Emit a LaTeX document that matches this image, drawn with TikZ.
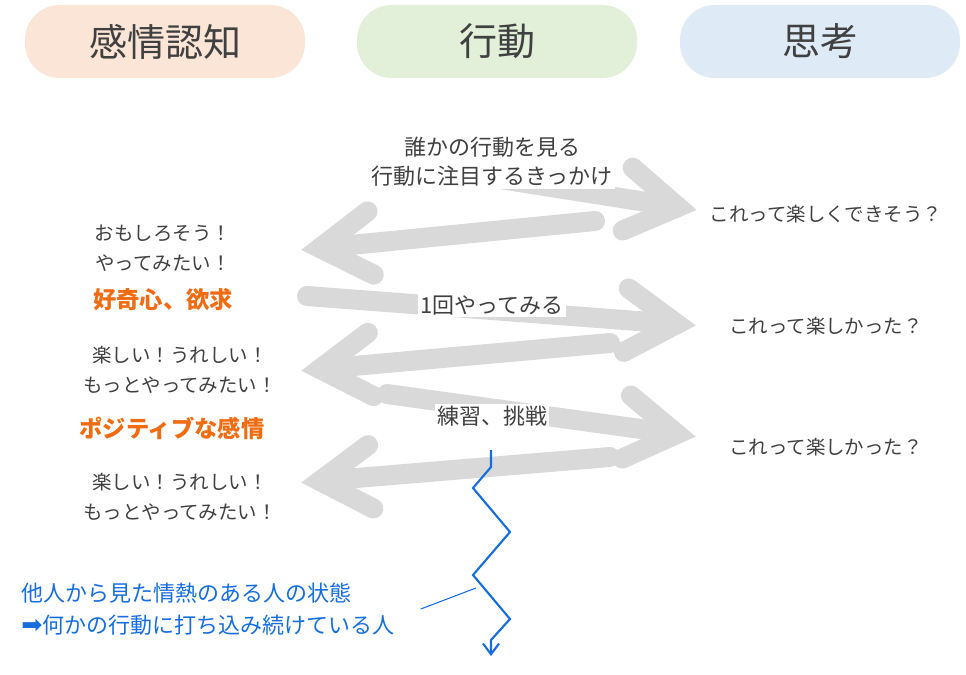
\documentclass[tikz,border=0pt]{standalone}
\usepackage{fontspec}
\newfontfamily\jpfont{Noto Sans CJK JP}
\newfontfamily\symfont{DejaVu Sans}
\usepackage{tikz}
\usetikzlibrary{calc,arrows.meta}

\definecolor{textgray}{RGB}{64,64,64}
\definecolor{arrowgray}{RGB}{217,217,217}
\definecolor{pillorange}{RGB}{251,229,214}
\definecolor{pillgreen}{RGB}{226,240,217}
\definecolor{pillblue}{RGB}{222,235,247}
\definecolor{accentorange}{RGB}{240,108,18}
\definecolor{noteblue}{RGB}{22,110,222}

\tikzset{
  pill/.style={rounded corners=26pt,minimum width=210pt,minimum height=54.75pt,
    inner sep=0pt,font=\jpfont\fontsize{28.5}{30}\selectfont,text=textgray},
  midtext/.style={font=\jpfont\fontsize{16.5}{21.75}\selectfont,text=textgray,
    fill=white,inner sep=1.5pt,align=center},
  sidetext/.style={font=\jpfont\fontsize{14.6}{22.5}\selectfont,text=textgray,align=center},
  keytext/.style={font=\jpfont\bfseries\fontsize{17.5}{20}\selectfont,text=accentorange},
  notetext/.style={font=\jpfont\fontsize{16.5}{24}\selectfont,text=noteblue,align=left,inner sep=0pt},
  graystroke/.style={draw=arrowgray,line width=15pt,line cap=round,line join=miter},
  zigzag/.style={draw=noteblue,line width=1.6pt,line join=miter},
}
\newcommand\bigarrow[2]{%
  \draw[graystroke] (#1) -- (#2);
  \draw[graystroke] ($(#2)!45pt!32:(#1)$) -- (#2) -- ($(#2)!45pt!-32:(#1)$);}

\begin{document}
\begin{tikzpicture}[x=0.75pt,y=-0.75pt]
  \useasboundingbox (0,0) rectangle (966,674);
%%
  % Headers
  \node[pill,fill=pillorange] (emotion) at (165,41.5) {感情認知};
  \node[pill,fill=pillgreen] (action) at (497,41.5) {行動};
  \node[pill,fill=pillblue] (thought) at (820,41.5) {思考};
  % Arrow ends
  \coordinate (a1s) at (430,168);  \coordinate (a1e) at (678,207);
  \coordinate (a2s) at (595,221);  \coordinate (a2e) at (320,248);
  \coordinate (a3s) at (307,296);  \coordinate (a3e) at (677,324);
  \coordinate (a4s) at (610,343);  \coordinate (a4e) at (320,369);
  \coordinate (a5s) at (387,394);  \coordinate (a5e) at (677,434);
  \coordinate (a6s) at (610,457);  \coordinate (a6e) at (320,481);
  % Edge: action -> thought
  \bigarrow{a1s}{a1e}
  % Edge: thought -> emotion
  \bigarrow{a2s}{a2e}
  % Edge: emotion -> thought
  \bigarrow{a3s}{a3e}
  % Edge: thought -> emotion
  \bigarrow{a4s}{a4e}
  % Edge: emotion -> thought
  \bigarrow{a5s}{a5e}
  % Edge: thought -> emotion
  \bigarrow{a6s}{a6e}
  % Middle labels
  \node[midtext] (see) at (492,162) {誰かの行動を見る\\行動に注目するきっかけ};
  \node[midtext] (try) at (492,305) {1回やってみる};
  \node[midtext] (practice) at (492,416) {練習、挑戦};
  % Right labels
  \node[sidetext] (think1) at (826,214) {これって楽しくできそう？};
  \node[sidetext] (think2) at (826,326) {これって楽しかった？};
  \node[sidetext] (think3) at (826,447) {これって楽しかった？};
  % Left labels
  \node[sidetext] (feel1) at (163,248) {おもしろそう！\\やってみたい！};
  \node[keytext] (curious) at (163,300) {好奇心、欲求};
  \node[sidetext] (feel2) at (180,370) {楽しい！うれしい！\\もっとやってみたい！};
  \node[keytext] (positive) at (172,428) {ポジティブな感情};
  \node[sidetext] (feel3) at (180,497) {楽しい！うれしい！\\もっとやってみたい！};
  % Zigzag
  \coordinate (z0) at (491,450);
  \coordinate (z1) at (491,467);
  \coordinate (z2) at (473,488);
  \coordinate (z3) at (510,532);
  \coordinate (z4) at (473,575);
  \coordinate (z5) at (510,619);
  \coordinate (z6) at (491,640);
  \coordinate (z7) at (491,656);
  \draw[zigzag,-{Straight Barb[length=8pt,width=12pt,line width=1.6pt]}]
    (z0) -- (z1) -- (z2) -- (z3) -- (z4) -- (z5) -- (z6) -- (z7);
  % Note
  \node[notetext,anchor=west] (note) at (21,609) {他人から見た情熱のある人の状態\\{\symfont\fontsize{19}{24}\selectfont ➡}何かの行動に打ち込み続けている人};
  \coordinate (notepin) at (476,588);
  \draw[draw=noteblue,line width=0.8pt] ($(note.east)+(26,0)$) -- (notepin);
%
\end{tikzpicture}
\end{document}
